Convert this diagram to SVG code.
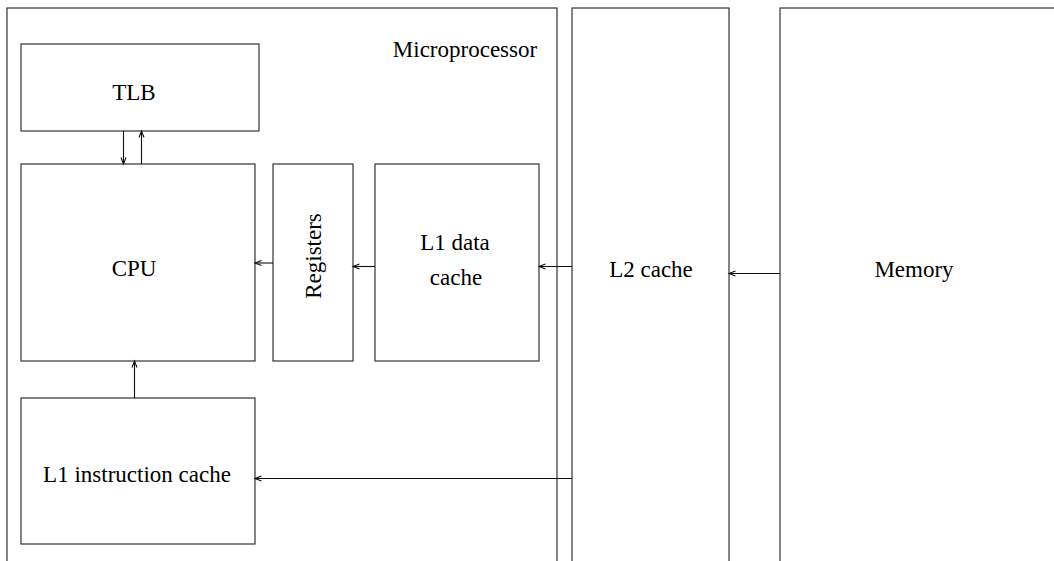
<svg xmlns="http://www.w3.org/2000/svg" width="1054" height="561" viewBox="0 0 1054 561">
<defs>
<style>
.box{fill:none;stroke:#333;stroke-width:1.2}
.lbl{font-family:"Liberation Serif","Times New Roman",serif;font-size:23px;fill:#000;text-anchor:middle}
.con{fill:none;stroke:#111;stroke-width:1.1;marker-end:url(#ah)}
</style>
<marker id="ah" markerUnits="userSpaceOnUse" viewBox="-8 -4 10 8" refX="0" refY="0" markerWidth="10" markerHeight="8" orient="auto" overflow="visible">
<path d="M-6.5,-2.5 L0,0 L-6.5,2.5" fill="none" stroke="#111" stroke-width="1.1"/>
</marker>
</defs>
<rect width="1054" height="561" fill="#fff"/>
<g id="microprocessor">
<rect class="box" x="7" y="8" width="550" height="600"/>
<text class="lbl" x="465" y="57">Microprocessor</text>
</g>
<g id="l2cache">
<rect class="box" x="572" y="8" width="157" height="600"/>
<text class="lbl" x="651" y="276.5">L2 cache</text>
</g>
<g id="memory">
<rect class="box" x="780" y="8" width="300" height="600"/>
<text class="lbl" x="914" y="276.5">Memory</text>
</g>
<g id="tlb">
<rect class="box" x="21" y="44" width="238" height="87"/>
<text class="lbl" x="134" y="100">TLB</text>
</g>
<g id="cpu">
<rect class="box" x="21" y="164" width="234" height="197"/>
<text class="lbl" x="134" y="275.5">CPU</text>
</g>
<g id="registers">
<rect class="box" x="273" y="164" width="80" height="197"/>
<text class="lbl" transform="translate(320.5,256) rotate(-90)">Registers</text>
</g>
<g id="l1data">
<rect class="box" x="375" y="164" width="164" height="197"/>
<text class="lbl" x="455" y="249.5">L1 data</text>
<text class="lbl" x="456" y="284.5">cache</text>
</g>
<g id="l1instr">
<rect class="box" x="21" y="398" width="234" height="146"/>
<text class="lbl" x="137" y="482">L1 instruction cache</text>
</g>
<g id="connectors">
<line class="con" x1="123.5" y1="131" x2="123.5" y2="164"/>
<line class="con" x1="141.5" y1="164" x2="141.5" y2="131"/>
<line class="con" x1="273" y1="263" x2="255" y2="263"/>
<line class="con" x1="375" y1="266.5" x2="353" y2="266.5"/>
<line class="con" x1="572" y1="266.5" x2="539" y2="266.5"/>
<line class="con" x1="780" y1="273.5" x2="729" y2="273.5"/>
<line class="con" x1="134.5" y1="398" x2="134.5" y2="361"/>
<line class="con" x1="572" y1="478.5" x2="255" y2="478.5"/>
</g>
</svg>
